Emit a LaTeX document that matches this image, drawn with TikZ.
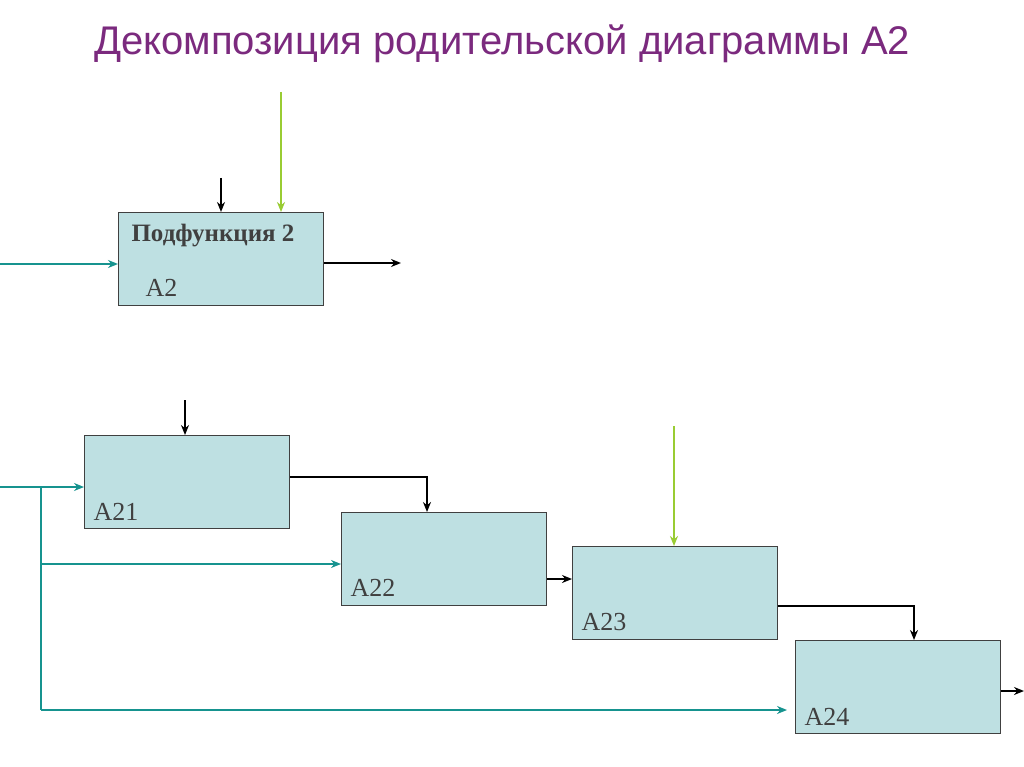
\documentclass[tikz,border=0pt]{standalone}
\usepackage{fontspec}
\setmainfont{Liberation Serif}
\newfontfamily\titlefont{Liberation Sans}
\usetikzlibrary{arrows.meta}
\definecolor{tpurple}{HTML}{7B2A7E}
\definecolor{boxfill}{HTML}{BEE0E2}
\definecolor{tealc}{HTML}{16938F}
\definecolor{greenc}{HTML}{99CC33}
\begin{document}
\begin{tikzpicture}[x=1pt,y=-1pt,
  blk/.style={draw=black!75,fill=boxfill,line width=1pt,minimum width=205pt,minimum height=93pt,anchor=north west,inner sep=0pt},
  lbl/.style={anchor=west,font=\fontsize{26}{28}\selectfont,text=black!75},
  ar/.style={-{Stealth[length=10pt,width=8pt]},line width=2.2pt},
  blk arr/.style={ar,black},
  tl/.style={ar,tealc,line width=2pt},
  gr/.style={ar,greenc,line width=2.4pt}]
\useasboundingbox (0,0) rectangle (1024,767);
\fill[white] (0,0) rectangle (1024,767);
\node[text=tpurple,font=\titlefont\fontsize{40}{44}\selectfont] (title) at (502,44) {Декомпозиция родительской диаграммы А2};
\node[blk] (a2) at (118,212) {};
\node[blk] (a21) at (84,435) {};
\node[blk] (a22) at (341,512) {};
\node[blk] (a23) at (572,546) {};
\node[blk] (a24) at (795,640) {};
\node[lbl,font=\bfseries\fontsize{25}{28}\selectfont] (t2) at (128,236) {Подфункция 2};
\node[lbl] (l2) at (142,288) {А2};
\node[lbl] (l21) at (90,512) {А21};
\node[lbl] (l22) at (347,588) {А22};
\node[lbl] (l23) at (578,622) {А23};
\node[lbl] (l24) at (801,717) {А24};
\coordinate (c1) at (221,178);
\coordinate (g1) at (281,92);
\coordinate (i1) at (0,264);
\coordinate (o1) at (401,263);
\coordinate (c21) at (185,400);
\coordinate (i21) at (0,487);
\coordinate (br) at (41,487);
\coordinate (b2) at (41,564);
\coordinate (b3) at (41,710);
\coordinate (e3) at (787,710);
\coordinate (g23) at (674,426);
\coordinate (o24) at (1024,691);
\coordinate (y21) at (0,477);
\coordinate (y22) at (0,579);
\coordinate (y23) at (0,606);
\coordinate (x21) at (427,0);
\coordinate (x23) at (914,0);
\draw[blk arr] (c1) -- (c1 |- a2.north);
\draw[gr] (g1) -- (g1 |- a2.north);
\draw[tl] (i1) -- (i1 -| a2.west);
\draw[blk arr] (o1 -| a2.east) -- (o1);
\draw[blk arr] (c21) -- (c21 |- a21.north);
\draw[tl] (i21) -- (i21 -| a21.west);
\draw[tealc,line width=2pt] (br) -- (b3);
\draw[tl] (b2) -- (b2 -| a22.west);
\draw[tl] (b3) -- (e3);
\draw[blk arr] (y21 -| a21.east) -| (x21 |- a22.north);
\draw[blk arr] (y22 -| a22.east) -- (y22 -| a23.west);
\draw[gr] (g23) -- (g23 |- a23.north);
\draw[blk arr] (y23 -| a23.east) -| (x23 |- a24.north);
\draw[blk arr] (o24 -| a24.east) -- (o24);
\end{tikzpicture}
\end{document}
